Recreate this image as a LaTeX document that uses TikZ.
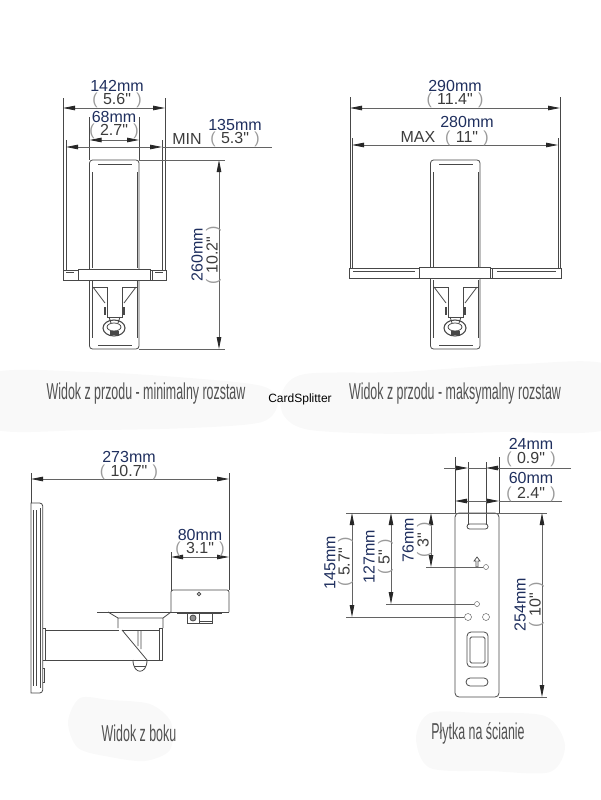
\documentclass[tikz,border=0pt]{standalone}
\usepackage{fontspec}
\setmainfont{Liberation Sans}
\newfontfamily\dimfont[Ligatures=NoCommon]{Liberation Sans}
\newfontfamily\capfont[FakeStretch=0.54]{Liberation Sans}
\usetikzlibrary{arrows.meta}
\definecolor{mmblue}{HTML}{1F2F5E}
\definecolor{inchgray}{HTML}{3C3C3C}
\definecolor{parengray}{HTML}{9A9A9A}
\definecolor{partgray}{HTML}{484848}
\definecolor{blobgray}{HTML}{F9F9F9}
\newcommand{\inchtxt}[1]{\vphantom{0}\smash{{\color{parengray}(}}\,\,\smash{#1}\,\,\smash{{\color{parengray})}}}
\newcommand{\frontplate}{%
  \draw [part, rounded corners=3pt] (89.5,160) rectangle (139,349);
  \draw [part] (92,172) -- (92,268) (137,172) -- (137,268) (98,164) -- (132,164);
  \draw [part] (92,287) -- (92,338) (137,287) -- (137,338) (98,345) -- (132,345);
  \draw [part] (92,280) -- (92,287) -- (107,287) -- (107,317) -- (122,317) -- (122,287) -- (137,287) -- (137,280);
  \draw [part] (93,287) -- (105,303) (136,287) -- (124,303);
  \draw [part, line width=1.2pt] (105,307) -- (105,315) (124,307) -- (124,315);
  \draw [part] (109,317) -- (111,323) (120,317) -- (118,323);
  \draw [part, line width=1.1pt] (114,328) ellipse [x radius=11, y radius=8];
  \draw [part] (114,327) ellipse [x radius=7, y radius=4];
  \draw [part, fill=partgray] (110,331) rectangle (118,334);
}
\tikzset{
  part/.style={draw=partgray, line width=.8pt},
  dimline/.style={draw=partgray!85, line width=.8pt},
  dimarrow/.style={dimline, {Triangle[length=12pt,width=4.5pt,black!85]}-{Triangle[length=12pt,width=4.5pt,black!85]}},
  mmtxt/.style={font=\dimfont\fontsize{16}{16}\selectfont, text=mmblue, inner sep=0pt},
  inchtxt/.style={font=\dimfont\fontsize{16}{16}\selectfont, text=inchgray, inner sep=0pt},
  captxt/.style={font=\capfont\fontsize{23}{23}\selectfont, text=black!68, inner sep=0pt},
  blob/.style={fill=blobgray, draw=none}
}
\begin{document}
\begin{tikzpicture}[x=1pt, y=-1pt]
\useasboundingbox (0,0) rectangle (600,800);

\fill [blob] plot [smooth cycle] coordinates {(-10,374) (90,372) (190,378) (262,386) (278,402) (262,422) (190,428) (90,430) (-10,428)};
\fill [blob] plot [smooth cycle] coordinates {(282,392) (305,374) (400,372) (520,364) (610,366) (610,428) (500,432) (400,434) (310,430) (284,416)};
\fill [blob] plot [smooth cycle] coordinates {(68,722) (80,698) (110,700) (150,704) (171,722) (170,750) (145,761) (110,757) (78,748)};
\fill [blob] plot [smooth cycle] coordinates {(416,738) (430,713) (480,713) (545,716) (565,745) (550,772) (490,771) (430,768)};

% front view, minimum
\frontplate
\draw [part, fill=white] (78,269) rectangle (150,280);
\draw [part] (63,270) rectangle (78,280) (152,270) rectangle (166,280);
\draw [part] (150,270) -- (152,270) (150,280) -- (152,280);
\draw [part] (66,272) -- (74,272) (155,272) -- (163,272);
\draw [part] (63,98) -- (63,270) (66,140) -- (66,270) (165,98) -- (165,270) (162,140) -- (162,270);
\draw [part] (89.5,117) -- (89.5,160) (139,117) -- (139,160);
\coordinate (minout a) at (63,108);
\coordinate (minout b) at (165,108);
\coordinate (mininn a) at (89.5,140);
\coordinate (mininn b) at (139,140);
\coordinate (minarm a) at (66,147);
\coordinate (minarm b) at (162,147);
\coordinate (minarm end) at (272,147);
\coordinate (minhgt a) at (219,160);
\coordinate (minhgt b) at (219,349);
\coordinate (minhgt ta) at (139,160);
\coordinate (minhgt tb) at (225,160);
\coordinate (minhgt ba) at (139,349);
\coordinate (minhgt bb) at (225,349);
\draw [dimarrow] (minout a) -- (minout b);
\draw [dimarrow] (mininn a) -- (mininn b);
\draw [dimarrow] (minarm a) -- (minarm b);
\draw [dimline] (minarm b) -- (minarm end);
\draw [dimarrow] (minhgt a) -- (minhgt b);
\draw [dimline] (minhgt ta) -- (minhgt tb) (minhgt ba) -- (minhgt bb);
\node [mmtxt] (min142) at (117,86) {142mm};
\node [inchtxt] (min142i) at (117,99) {\inchtxt{5.6"}};
\node [mmtxt] (min68) at (114,117) {68mm};
\node [inchtxt] (min68i) at (114,130) {\inchtxt{2.7"}};
\node [inchtxt] (minlabel) at (187,139) {MIN};
\node [mmtxt] (min135) at (235,125) {135mm};
\node [inchtxt] (min135i) at (235,138) {\inchtxt{5.3"}};
\node [mmtxt, rotate=90] (min260) at (197,255) {260mm};
\node [inchtxt, rotate=90] (min260i) at (212,255) {\inchtxt{10.2"}};

% front view, maximum
\begin{scope}[xshift=341pt]
\frontplate
\end{scope}
\draw [part, fill=white] (419,267) rectangle (490,278);
\draw [part] (490,268) rectangle (492,278);
\draw [part] (349,268) rectangle (419,278) (492,268) rectangle (561,278);
\draw [part] (353,271) -- (415,271) (497,271) -- (556,271);
\draw [part] (350,97) -- (350,268) (352,138) -- (352,268) (560,97) -- (560,268) (558,138) -- (558,268);
\coordinate (maxout a) at (350,108);
\coordinate (maxout b) at (560,108);
\coordinate (maxinn a) at (352,145);
\coordinate (maxinn b) at (558,145);
\draw [dimarrow] (maxout a) -- (maxout b);
\draw [dimarrow] (maxinn a) -- (maxinn b);
\node [mmtxt] (max290) at (455,86) {290mm};
\node [inchtxt] (max290i) at (455,99) {\inchtxt{11.4"}};
\node [mmtxt] (max280) at (467,122) {280mm};
\node [inchtxt] (maxlabel) at (418,137) {MAX};
\node [inchtxt] (max280i) at (467,137) {\inchtxt{11"}};

\node [captxt] (capmin) at (146,394) {Widok z przodu - minimalny rozstaw};
\node [captxt] (capmax) at (455,394) {Widok z przodu - maksymalny rozstaw};
\node [font=\fontsize{12}{12}\selectfont, text=black, inner sep=0pt] (cardsp) at (300,399) {CardSplitter};

% side view
\draw [part] (31,503) -- (40,503) [rounded corners=3pt] -- (42.7,503) -- (42.7,693) [sharp corners] -- (31,693) -- cycle;
\draw [part] (33.5,510) -- (33.5,686) (36,510) -- (36,686) (40,508) -- (40,688);
\draw [part] (42.7,628) -- (45,628) -- (45,660) -- (42.7,660);
\draw [part, line width=1.6pt] (40.5,640) -- (40.5,650);
\draw [part] (45,630) -- (119,630) (45,660) -- (162,660) -- (162,628) -- (159,628) -- (159,660);
\draw [part] (122,630) -- (159,630);
\draw [part] (97,612) -- (171,612);
\draw [part] (108,612) -- (118,618) -- (118,628) (171,612) -- (163,618) -- (163,628) (118,618) -- (163,618);
\draw [part] (122,630) -- (147,660) (138,630) -- (138,646) (141,630) -- (141,649);
\draw [part] (133,660) .. controls (133,675) and (147,675) .. (147,660);
\draw [part] (134,666) -- (146,666);
\draw [part] (42.7,668) -- (44,668) -- (44,682) -- (42.7,682);
\draw [part, rounded corners=2pt] (171,612) -- (171,590) -- (229,590) -- (229,612);
\draw [part] (171,612) -- (229,612);
\draw [part] (199,594) circle [radius=1.8];
\draw [part] (177,613) -- (222,613);
\draw [part] (187,613) rectangle (199,623) (199,613) rectangle (212,623);
\draw [part, fill=partgray!60] (193,618) circle [radius=3];
\draw [part] (199,621) -- (212,621);
\coordinate (sidelen a) at (31,479);
\coordinate (sidelen b) at (229,479);
\coordinate (sidebox a) at (171,557);
\coordinate (sidebox b) at (229,557);
\draw [part] (31,473) -- (31,503) (229,473) -- (229,590) (171,552) -- (171,590);
\draw [dimarrow] (sidelen a) -- (sidelen b);
\draw [dimarrow] (sidebox a) -- (sidebox b);
\node [mmtxt] (side273) at (129,457) {273mm};
\node [inchtxt] (side273i) at (129,471) {\inchtxt{10.7"}};
\node [mmtxt] (side80) at (200,535) {80mm};
\node [inchtxt] (side80i) at (200,548) {\inchtxt{3.1"}};
\node [captxt] (capside) at (139,733) {Widok z boku};

% wall plate
\draw [part, rounded corners=4pt] (455,513) rectangle (499,697);
\draw [part, rounded corners=2.5pt] (467,524) rectangle (488,529);
\draw [part, rounded corners=4pt] (466,678) rectangle (488,686);
\draw [part, rounded corners=4pt] (467,632) rectangle (488,667);
\draw [part, rounded corners=1.5pt] (470,637) rectangle (485,663);
\node [draw=partgray, circle, inner sep=0pt, minimum size=7pt] (hole a) at (468,617) {};
\node [draw=partgray, circle, inner sep=0pt, minimum size=7pt] (hole b) at (486,617) {};
\node [draw=partgray, circle, inner sep=0pt, minimum size=5pt] (hole c) at (477,604) {};
\node [draw=partgray, circle, inner sep=0pt, minimum size=5pt] (hole d) at (486,567) {};
\draw [part, line width=.7pt] (476,567) -- (476,561) -- (474,561) -- (477,557) -- (480,561) -- (478,561) -- (478,567) -- cycle;
\draw [part] (455,457) -- (455,513) (499,457) -- (499,513);
\draw [part] (468,462) -- (468,524) (486,462) -- (486,524);
\coordinate (plate24 a) at (468,468);
\coordinate (plate24 b) at (486,468);
\coordinate (plate24 l) at (444,468);
\coordinate (plate24 r) at (571,468);
\draw [dimline, -{Triangle[length=12pt,width=4.5pt,black!85]}] (plate24 l) -- (plate24 a);
\draw [dimline, -{Triangle[length=12pt,width=4.5pt,black!85]}] (plate24 r) -- (plate24 b);
\draw [dimline] (plate24 a) -- (plate24 b);
\coordinate (plate60 a) at (455,501);
\coordinate (plate60 b) at (499,501);
\coordinate (plate60 r) at (562,501);
\draw [dimarrow] (plate60 a) -- (plate60 b);
\draw [dimline] (plate60 b) -- (plate60 r);
\coordinate (platetop a) at (346,513);
\coordinate (platetop b) at (547,513);
\coordinate (platebot a) at (499,697);
\coordinate (platebot b) at (547,697);
\draw [dimline] (platetop a) -- (platetop b) (platebot a) -- (platebot b);
\coordinate (p145 a) at (352,513);
\coordinate (p145 b) at (352,617);
\coordinate (p145 l) at (346,617);
\coordinate (p127 a) at (391,513);
\coordinate (p127 b) at (391,604);
\coordinate (p127 l) at (386,604);
\coordinate (p76 a) at (431,513);
\coordinate (p76 b) at (431,567);
\coordinate (p76 l) at (426,567);
\coordinate (p254 a) at (542,513);
\coordinate (p254 b) at (542,697);
\draw [dimarrow] (p145 a) -- (p145 b);
\draw [dimarrow] (p127 a) -- (p127 b);
\draw [dimarrow] (p76 a) -- (p76 b);
\draw [dimarrow] (p254 a) -- (p254 b);
\draw [dimline] (p145 l) -- (hole a);
\draw [dimline] (p127 l) -- (hole c);
\draw [dimline] (p76 l) -- (hole d);
\node [mmtxt] (plate24) at (531,444) {24mm};
\node [inchtxt] (plate24i) at (531,458) {\inchtxt{0.9"}};
\node [mmtxt] (plate60) at (531,478) {60mm};
\node [inchtxt] (plate60i) at (531,493) {\inchtxt{2.4"}};
\node [mmtxt, rotate=90] (p145) at (330,563) {145mm};
\node [inchtxt, rotate=90] (p145i) at (344,562) {\inchtxt{5.7"}};
\node [mmtxt, rotate=90] (p127) at (369,557) {127mm};
\node [inchtxt, rotate=90] (p127i) at (384,557) {\inchtxt{5"}};
\node [mmtxt, rotate=90] (p76) at (408,540) {76mm};
\node [inchtxt, rotate=90] (p76i) at (423,540) {\inchtxt{3"}};
\node [mmtxt, rotate=90] (p254) at (520,605) {254mm};
\node [inchtxt, rotate=90] (p254i) at (535,605) {\inchtxt{10"}};
\node [captxt] (capplate) at (478,733) {Płytka na ścianie};
\end{tikzpicture}
\end{document}
